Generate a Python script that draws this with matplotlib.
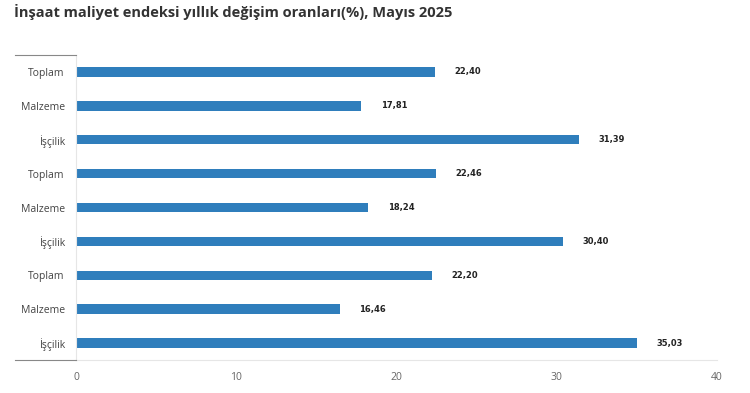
import matplotlib.pyplot as plt
from matplotlib.lines import Line2D

categories = ["Toplam", "Malzeme", "İşçilik", "Toplam", "Malzeme", "İşçilik",
              "Toplam", "Malzeme", "İşçilik"]
values = [22.40, 17.81, 31.39, 22.46, 18.24, 30.40, 22.20, 16.46, 35.03]
xticks = [0, 10, 20, 30, 40]
title = "İnşaat maliyet endeksi yıllık değişim oranları(%), Mayıs 2025"

plt.rcParams['font.family'] = ['Open Sans', 'DejaVu Sans']

W, H = 750, 393
fig = plt.figure(figsize=(W / 100, H / 100), dpi=100)
x0, x1, y0, y1 = 76, 717, 55, 360
ax = fig.add_axes([x0 / W, 1 - y1 / H, (x1 - x0) / W, (y1 - y0) / H])

pos = list(range(len(categories)))
ax.barh(pos, values, height=0.28, color='#2f7ebc')
ax.set_ylim(len(categories) - 0.5, -0.5)
ax.set_xlim(0, 40)

for p, v in zip(pos, values):
    ax.annotate(f"{v:.2f}".replace('.', ','), (v, p), xytext=(14, 0),
                textcoords='offset points', va='center', ha='left',
                fontsize=6, fontweight='bold', color='#222222',
                family=['DejaVu Sans'])

ax.set_yticks(pos)
ax.set_yticklabels(categories, fontsize=7.5, color='#444444')
ax.set_xticks(xticks)
ax.set_xticklabels([str(t) for t in xticks], fontsize=7.5, color='#666666')
ax.tick_params(axis='y', length=0, pad=8)
ax.tick_params(axis='x', length=0, pad=9)

for s in ['top', 'right']:
    ax.spines[s].set_visible(False)
ax.spines['left'].set_color('#e6e6e6')
ax.spines['left'].set_linewidth(0.8)
ax.spines['bottom'].set_color('#e6e6e6')
ax.spines['bottom'].set_linewidth(0.8)

# dark category-axis lines at left
for yy in [y0, y1]:
    fig.add_artist(Line2D([15 / W, x0 / W], [1 - yy / H, 1 - yy / H],
                          color='#888888', linewidth=0.8))

fig.text(14 / W, 1 - 12 / H, title, fontsize=10.5, fontweight='bold',
         color='#333333', va='center', ha='left')

fig.savefig('out.png', dpi=100)
